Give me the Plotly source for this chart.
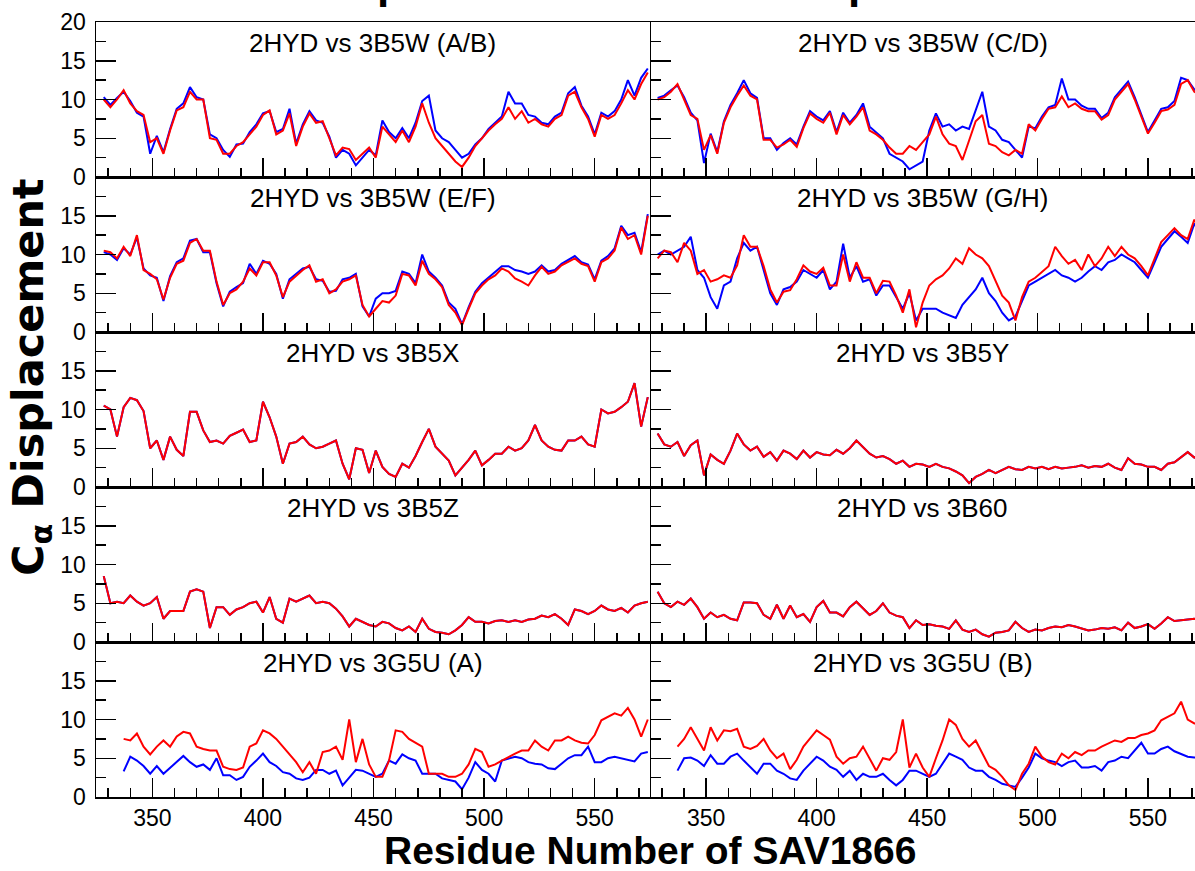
import plotly.graph_objects as go

W, H = 1195, 871

# ---------------- data (C-alpha displacement) ----------------
residues = list(range(328, 575, 3))          # residue numbers for panels 1-8
residues_3g5u = list(range(337, 575, 3))     # residue numbers for the 3G5U panels

ab_red = [10.0, 9.0, 10.0, 11.2, 9.5, 8.5, 8.0, 4.5, 5.0, 3.0,
          6.0, 8.6, 9.0, 11.0, 10.0, 10.0, 5.0, 4.8, 3.0, 3.0,
          4.0, 4.5, 5.5, 6.5, 8.0, 8.6, 5.5, 6.0, 8.2, 4.0,
          6.5, 8.2, 7.0, 7.2, 5.0, 2.8, 3.8, 3.6, 2.2, 3.0,
          3.8, 2.5, 6.5, 5.5, 4.5, 6.0, 4.5, 6.5, 9.5, 7.0,
          5.0, 4.0, 3.0, 2.0, 1.3, 2.5, 4.0, 5.0, 6.0, 6.8,
          7.5, 9.0, 7.5, 8.5, 7.0, 7.5, 6.8, 6.5, 7.5, 8.0,
          10.5, 11.0, 9.0, 7.5, 5.2, 8.0, 7.5, 8.0, 9.5, 11.2,
          10.0, 12.0, 13.5]
ab_blue = [10.3, 9.3, 10.2, 11.0, 9.8, 8.3, 7.8, 3.0, 5.3, 3.2,
           6.2, 8.8, 9.5, 11.6, 10.3, 10.0, 5.5, 5.0, 3.5, 2.6,
           4.2, 4.3, 5.8, 6.8, 8.2, 8.5, 5.8, 6.2, 8.8, 4.3,
           6.8, 8.5, 7.3, 7.0, 5.2, 2.5, 3.5, 3.0, 1.5, 2.5,
           3.5, 2.8, 7.3, 5.8, 5.0, 6.3, 5.0, 7.0, 9.8, 10.5,
           6.0, 5.0, 4.5, 3.5, 2.5, 3.0, 4.2, 5.0, 6.2, 7.0,
           7.8, 11.0, 9.5, 9.5, 8.0, 7.8, 7.0, 6.8, 7.8, 8.3,
           10.8, 11.6, 9.2, 7.8, 5.5, 8.3, 7.8, 8.5, 10.0, 12.5,
           10.5, 12.8, 14.0]

cd_red = [10.0, 10.3, 11.0, 12.0, 10.0, 8.0, 7.5, 3.5, 5.4, 3.0,
          7.0, 9.0, 10.5, 11.8, 10.5, 10.0, 4.8, 4.8, 3.8, 4.2,
          4.8, 3.9, 6.3, 8.2, 7.5, 7.0, 8.3, 5.5, 8.0, 6.8,
          7.8, 9.0, 6.0, 5.5, 4.8, 3.8, 3.0, 3.0, 4.0, 3.5,
          4.5, 5.5, 7.8, 5.5, 4.3, 4.0, 2.2, 4.8, 7.2, 8.0,
          4.3, 4.0, 3.2, 2.8, 3.5, 3.0, 6.8, 6.0, 7.5, 8.8,
          9.0, 10.4, 9.0, 9.5, 8.8, 8.5, 8.5, 7.4, 8.0, 10.0,
          11.0, 12.0, 10.0, 7.8, 5.6, 7.0, 8.5, 8.7, 9.3, 12.0,
          12.5, 11.0, 10.5]
cd_blue = [10.2, 10.5, 11.2, 11.8, 10.3, 8.3, 7.3, 1.8, 5.6, 3.2,
           7.2, 9.3, 10.8, 12.5, 10.8, 10.2, 5.0, 5.0, 3.5, 4.4,
           5.0, 4.2, 6.5, 8.5, 7.8, 7.3, 8.5, 5.8, 8.3, 7.0,
           8.0, 9.5, 6.5, 5.8, 5.0, 3.0, 2.5, 2.0, 1.0, 1.5,
           2.0, 6.0, 8.2, 6.5, 6.8, 6.0, 6.5, 6.2, 8.5, 11.0,
           6.5, 6.0, 4.8, 4.5, 3.5, 2.5, 6.5, 6.3, 7.8, 9.0,
           9.3, 12.7, 10.0, 10.0, 9.2, 8.8, 8.8, 7.6, 8.3, 10.3,
           11.3, 12.3, 10.3, 8.0, 5.8, 7.3, 8.8, 9.0, 9.8, 12.8,
           12.5, 11.3, 10.8]

ef_red = [10.5, 10.3, 9.5, 11.0, 9.8, 12.5, 8.0, 7.5, 6.8, 4.2,
          7.0, 8.8, 9.2, 11.5, 12.0, 10.5, 10.5, 6.5, 3.5, 5.0,
          5.5, 6.5, 8.2, 7.3, 9.0, 9.0, 7.3, 4.5, 6.5, 7.3,
          8.0, 8.6, 6.5, 6.8, 5.0, 5.5, 6.5, 6.8, 7.3, 3.5,
          2.0, 3.0, 4.0, 3.8, 4.7, 7.5, 7.3, 6.0, 9.2, 7.5,
          6.8, 5.8, 3.5, 2.5, 0.9, 3.0, 5.0, 6.0, 6.8, 7.3,
          8.2, 7.8, 6.9, 6.5, 6.0, 7.3, 8.4, 7.5, 7.8, 8.6,
          9.0, 9.5, 8.8, 8.5, 6.5, 9.0, 9.5, 10.5, 13.5, 12.0,
          12.5, 10.0, 15.0]
ef_blue = [10.3, 10.0, 9.3, 10.8, 10.0, 12.2, 8.2, 7.3, 7.0, 4.0,
           7.2, 9.0, 9.5, 11.8, 12.0, 10.3, 10.3, 6.3, 3.3, 5.2,
           5.8, 6.3, 8.8, 7.5, 9.2, 8.8, 7.5, 4.3, 6.8, 7.5,
           8.2, 8.4, 6.8, 6.6, 5.2, 5.3, 6.8, 7.0, 7.5, 3.3,
           2.0, 4.3, 5.0, 5.0, 5.3, 7.8, 7.5, 6.3, 10.0, 7.8,
           7.0, 6.0, 3.8, 3.0, 1.0, 3.2, 5.2, 6.3, 7.0, 7.8,
           8.5, 8.5, 8.0, 7.8, 7.5, 7.8, 8.6, 7.8, 8.0, 8.8,
           9.3, 9.8, 9.0, 8.7, 6.8, 9.2, 9.8, 10.8, 13.7, 12.5,
           12.8, 10.3, 15.2]

gh_red = [9.5, 10.5, 10.3, 9.0, 11.5, 10.5, 7.5, 8.0, 6.5, 6.8,
          7.3, 7.0, 8.6, 12.5, 11.0, 11.0, 8.5, 5.5, 3.8, 5.2,
          5.4, 6.8, 8.6, 7.8, 7.5, 8.3, 6.0, 6.0, 10.0, 6.5,
          9.0, 7.0, 7.0, 5.0, 6.6, 6.5, 4.7, 2.5, 5.5, 0.6,
          3.8, 6.0, 6.8, 7.3, 8.2, 9.5, 8.8, 10.8, 10.0, 9.5,
          8.5, 6.5, 4.7, 3.8, 1.5, 4.5, 6.5, 7.0, 7.8, 8.5,
          11.0, 9.8, 8.8, 9.3, 8.0, 10.0, 8.5, 9.5, 11.0, 9.8,
          11.0, 10.0, 9.5, 8.5, 7.3, 9.5, 11.6, 12.5, 13.4, 12.5,
          12.0, 14.5, 13.0]
gh_blue = [10.0, 10.5, 10.0, 10.5, 11.0, 12.3, 8.0, 7.0, 4.5, 3.0,
           6.0, 6.5, 9.5, 11.5, 10.5, 11.0, 8.0, 5.0, 3.5, 5.5,
           5.8, 6.5, 8.0, 7.5, 7.0, 8.0, 5.5, 6.5, 11.4, 7.0,
           8.5, 6.5, 6.8, 4.7, 6.0, 6.0, 4.5, 3.0, 5.0, 1.5,
           3.0, 3.0, 3.0, 2.5, 2.2, 1.8, 3.5, 4.5, 5.5, 7.0,
           5.0, 4.0, 2.5, 1.5, 2.0, 4.0, 6.0, 6.5, 7.0, 7.5,
           8.0, 7.3, 7.0, 6.5, 7.0, 7.8, 8.5, 8.0, 9.0, 9.3,
           10.0, 9.5, 9.0, 8.0, 7.0, 9.0, 11.0, 12.0, 13.0, 12.3,
           11.5, 14.0, 12.5]

x_red = [10.5, 10.0, 6.5, 10.3, 11.5, 11.2, 9.8, 5.0, 6.0, 3.5,
         6.5, 4.8, 4.0, 9.7, 9.7, 7.3, 5.8, 6.0, 5.6, 6.6,
         7.0, 7.4, 5.8, 6.0, 11.0, 9.0, 6.5, 3.0, 5.6, 5.8,
         6.5, 5.5, 5.0, 5.2, 5.6, 6.0, 3.0, 1.0, 5.0, 4.8,
         1.8, 4.7, 2.6, 1.7, 1.3, 3.0, 2.5, 4.0, 5.8, 7.5,
         5.2, 4.3, 3.4, 1.5, 2.5, 3.5, 4.7, 2.8, 3.5, 4.3,
         4.3, 5.2, 4.7, 5.0, 6.0, 8.0, 6.0, 5.2, 4.8, 4.7,
         6.0, 6.0, 6.5, 5.5, 5.2, 10.0, 9.5, 9.7, 10.3, 11.0,
         13.4, 7.8, 11.6]
x_blue = list(x_red)      # blue trace lies under the red one

y_red = [6.9, 5.5, 5.2, 5.8, 4.0, 5.4, 6.0, 1.5, 4.2, 3.5,
         3.0, 4.7, 6.9, 5.5, 4.7, 5.2, 3.9, 4.5, 3.4, 4.7,
         4.3, 3.6, 4.7, 3.8, 4.5, 4.2, 4.1, 4.8, 4.3, 5.0,
         6.0, 5.2, 4.3, 3.8, 4.0, 3.6, 3.0, 3.4, 2.6, 3.0,
         2.9, 2.6, 3.0, 2.6, 2.4, 2.0, 1.5, 0.5, 1.3, 1.7,
         2.2, 1.8, 2.2, 2.6, 2.3, 2.2, 2.6, 2.4, 2.6, 2.3,
         2.6, 2.4, 2.5, 2.6, 2.8, 2.5, 2.7, 2.6, 3.0, 2.5,
         2.2, 3.7, 3.0, 2.9, 2.6, 2.6, 2.2, 3.0, 3.2, 3.8,
         4.5, 3.8, 4.0]
y_blue = list(y_red)

z_red = [8.5, 5.0, 5.2, 5.0, 6.0, 5.2, 4.7, 5.0, 5.8, 3.0,
         4.0, 4.0, 4.0, 6.5, 6.8, 6.5, 1.8, 4.5, 4.5, 3.5,
         4.2, 4.5, 5.0, 5.2, 3.8, 5.8, 3.0, 2.5, 5.6, 5.2,
         5.6, 6.0, 5.0, 5.2, 5.0, 4.3, 3.3, 2.0, 3.0, 2.6,
         2.2, 2.0, 2.6, 2.4, 1.8, 1.5, 2.0, 1.3, 3.0, 1.7,
         1.3, 1.2, 1.0, 1.5, 2.2, 3.2, 2.6, 2.6, 2.4, 2.7,
         2.8, 2.6, 2.8, 2.6, 2.9, 3.0, 3.4, 3.2, 3.6, 3.0,
         2.2, 4.2, 4.0, 3.6, 4.0, 4.7, 4.2, 4.0, 4.4, 3.8,
         4.7, 5.0, 5.2]
z_blue = list(z_red)

b60_red = [6.5, 5.0, 4.5, 5.2, 4.8, 5.6, 4.5, 3.0, 3.8, 3.2,
           3.5, 3.0, 2.8, 5.1, 5.1, 5.0, 3.5, 3.0, 4.8, 3.0,
           4.7, 3.2, 3.6, 2.6, 4.5, 5.3, 3.8, 3.8, 3.3, 4.5,
           5.2, 4.3, 3.5, 4.0, 5.0, 3.8, 3.4, 3.2, 1.8, 2.8,
           2.2, 2.3, 2.1, 2.0, 1.7, 2.8, 1.6, 1.3, 1.6, 1.0,
           0.7, 1.2, 1.3, 1.5, 2.6, 1.8, 1.3, 1.6, 1.5, 1.8,
           2.0, 1.9, 2.2, 2.0, 1.7, 1.5, 1.6, 1.8, 1.7, 1.9,
           1.5, 2.5, 1.8, 2.0, 2.3, 1.7, 2.4, 3.2, 2.7, 2.8,
           2.9, 3.0, 2.8]
b60_blue = list(b60_red)

g5ua_red = [7.5, 7.3, 8.2, 6.5, 5.5, 6.5, 7.3, 6.5, 7.8, 8.4,
            8.2, 6.5, 6.2, 6.0, 6.0, 3.9, 3.6, 3.5, 3.8, 6.5,
            6.9, 8.6, 8.2, 7.5, 6.5, 5.5, 4.5, 3.2, 4.5, 3.0,
            5.8, 6.0, 6.5, 4.8, 10.0, 4.5, 7.5, 4.2, 2.6, 2.6,
            4.7, 8.6, 8.4, 7.5, 7.0, 6.5, 3.0, 3.0, 3.0, 2.6,
            2.6, 3.0, 4.2, 6.2, 5.8, 3.9, 4.2, 4.7, 5.2, 5.6,
            6.0, 6.0, 7.3, 6.5, 6.0, 7.3, 7.3, 7.8, 7.3, 7.0,
            6.9, 8.0, 9.9, 10.3, 10.8, 10.5, 11.5, 10.0, 7.8, 10.0]
g5ua_blue = [3.3, 5.2, 4.7, 4.0, 3.0, 4.0, 3.0, 3.8, 4.5, 5.3,
             4.5, 3.9, 4.2, 3.5, 5.0, 2.8, 2.8, 2.2, 2.6, 3.9,
             4.7, 5.6, 4.5, 4.0, 3.2, 3.0, 2.4, 2.2, 2.5, 3.5,
             3.5, 3.0, 3.4, 1.5, 2.5, 3.5, 3.4, 3.0, 2.6, 3.0,
             4.7, 4.3, 5.5, 5.0, 4.7, 3.0, 3.0, 3.0, 2.4, 2.2,
             2.0, 1.0, 2.5, 4.5, 3.5, 3.0, 2.0, 4.7, 5.0, 5.2,
             5.0, 4.5, 4.3, 4.2, 3.7, 3.6, 4.3, 5.0, 5.4, 5.4,
             6.5, 4.5, 4.5, 5.0, 5.2, 5.0, 4.8, 4.6, 5.6, 5.8]

g5ub_red = [6.5, 7.5, 9.0, 7.5, 6.0, 9.0, 7.3, 8.6, 8.5, 8.8,
            6.5, 6.2, 6.6, 7.5, 6.0, 5.0, 5.6, 3.6, 4.8, 6.5,
            7.6, 8.6, 8.0, 7.4, 5.2, 4.3, 5.0, 5.2, 6.5, 5.0,
            3.4, 5.0, 4.8, 5.8, 10.0, 3.8, 5.6, 3.8, 2.6, 5.0,
            7.3, 10.0, 9.3, 7.5, 6.5, 7.3, 5.6, 4.0, 3.5, 2.6,
            1.5, 0.9, 3.0, 4.3, 6.5, 5.2, 4.5, 4.2, 5.6, 5.0,
            5.8, 5.4, 6.0, 6.0, 6.5, 6.9, 7.3, 7.1, 7.6, 7.6,
            8.0, 8.2, 8.6, 9.9, 10.3, 10.8, 12.3, 10.0, 9.5, 9.5]
g5ub_blue = [3.4, 5.0, 5.1, 4.7, 4.0, 5.4, 4.3, 4.3, 5.2, 5.6,
             4.7, 3.8, 3.0, 4.3, 4.3, 3.4, 3.0, 2.4, 2.2, 3.4,
             4.3, 5.2, 4.7, 3.9, 3.5, 2.6, 3.4, 2.2, 3.0, 2.6,
             2.6, 3.0, 2.2, 1.5, 2.2, 3.4, 3.4, 3.0, 2.6, 3.0,
             4.3, 5.6, 5.2, 4.8, 3.8, 3.4, 3.4, 2.6, 2.2, 1.7,
             1.5, 1.3, 2.5, 3.8, 5.6, 5.0, 4.7, 4.5, 4.0, 4.5,
             4.7, 3.8, 3.8, 4.0, 3.4, 4.5, 4.7, 5.2, 5.0, 6.0,
             7.0, 5.6, 5.6, 6.2, 6.5, 5.9, 5.6, 5.2, 5.1, 5.0]

panel_titles = ["2HYD vs 3B5W (A/B)", "2HYD vs 3B5W (C/D)",
                "2HYD vs 3B5W (E/F)", "2HYD vs 3B5W (G/H)",
                "2HYD vs 3B5X", "2HYD vs 3B5Y",
                "2HYD vs 3B5Z", "2HYD vs 3B60",
                "2HYD vs 3G5U (A)", "2HYD vs 3G5U (B)"]
panel_x = [residues] * 8 + [residues_3g5u] * 2
panel_blue = [ab_blue, cd_blue, ef_blue, gh_blue, x_blue, y_blue, z_blue, b60_blue, g5ua_blue, g5ub_blue]
panel_red = [ab_red, cd_red, ef_red, gh_red, x_red, y_red, z_red, b60_red, g5ua_red, g5ub_red]

x_major = [350, 400, 450, 500, 550]
x_minor = [330, 340, 360, 370, 380, 390, 410, 420, 430, 440, 460, 470, 480, 490,
           510, 520, 530, 540, 560, 570]
y_major = [0, 5, 10, 15]
y_minor = [2.5, 7.5, 12.5, 17.5]

# ---------------- layout geometry (pixels) ----------------
col_px = [(96, 650), (651, 1195)]
x_ranges = [[324.5, 575.0], [325.0, 571.3]]
row_tops = [22, 177, 332, 487, 642]
row_h = 155

FONT = "Liberation Sans"
BLUE = "#0000ff"
RED = "#ff0000"

fig = go.Figure()
layout = dict(width=W, height=H, margin=dict(l=0, r=0, t=0, b=0, autoexpand=False),
              paper_bgcolor="white", plot_bgcolor="white", showlegend=False,
              font=dict(family=FONT, size=23, color="black"))
annotations = []

for k in range(10):
    row, col = k // 2, k % 2
    idx = k + 1
    xs = "x" if idx == 1 else f"x{idx}"
    ys = "y" if idx == 1 else f"y{idx}"
    x0, x1 = col_px[col]
    top = row_tops[row]
    bot = top + row_h
    xdom = [x0 / W, x1 / W]
    ydom = [1 - bot / H, 1 - top / H]

    fig.add_trace(go.Scatter(x=panel_x[k], y=panel_blue[k], mode="lines",
                             line=dict(color=BLUE, width=2), xaxis=xs, yaxis=ys,
                             hoverinfo="skip"))
    fig.add_trace(go.Scatter(x=panel_x[k], y=panel_red[k], mode="lines",
                             line=dict(color=RED, width=2), xaxis=xs, yaxis=ys,
                             hoverinfo="skip"))

    xa = dict(domain=xdom, anchor=ys, range=x_ranges[col], automargin=False,
              tickmode="array", tickvals=x_major, ticks="inside", ticklen=19,
              tickwidth=1.5, tickcolor="black",
              minor=dict(tickmode="array", tickvals=x_minor, ticks="inside",
                         ticklen=9, tickwidth=1.5, tickcolor="black", showgrid=False),
              showticklabels=(row == 4), tickfont=dict(family=FONT, size=23),
              showline=True, linewidth=1.5, linecolor="black", mirror=True,
              showgrid=False, zeroline=False, fixedrange=True)
    yvals = y_major + [20] if (row == 0 and col == 0) else y_major
    ya = dict(domain=ydom, anchor=xs, range=[0, 20], automargin=False,
              tickmode="array", tickvals=yvals, ticks="inside", ticklen=20,
              tickwidth=1.5, tickcolor="black",
              minor=dict(tickmode="array", tickvals=y_minor, ticks="inside",
                         ticklen=10, tickwidth=1.5, tickcolor="black", showgrid=False),
              showticklabels=(col == 0), tickfont=dict(family=FONT, size=23),
              ticklabelstandoff=4,
              showline=True, linewidth=1.5, linecolor="black", mirror=False,
              showgrid=False, zeroline=False, fixedrange=True)
    layout["xaxis" if idx == 1 else f"xaxis{idx}"] = xa
    layout["yaxis" if idx == 1 else f"yaxis{idx}"] = ya

    annotations.append(dict(text=panel_titles[k], xref="paper", yref="paper",
                            x=(xdom[0] + xdom[1]) / 2, y=1 - (top + 21) / H,
                            xanchor="center", yanchor="middle", showarrow=False,
                            font=dict(family=FONT, size=26, color="black")))

# axis titles
annotations.append(dict(text="<b>Residue Number of SAV1866</b>", xref="paper", yref="paper",
                        x=650 / W, y=1 - 850 / H, xanchor="center", yanchor="middle",
                        showarrow=False, font=dict(family=FONT, size=39, color="black")))
annotations.append(dict(text="<b>C<sub>α</sub> Displacement</b>", xref="paper", yref="paper",
                        x=31 / W, y=1 - 377 / H, xanchor="center", yanchor="middle",
                        textangle=-90, showarrow=False,
                        font=dict(family="DejaVu Sans", size=43, color="black")))
# clipped descenders of the (cut-off) figure title above the image
for xp in (390, 861):
    annotations.append(dict(text="<b>p</b>", xref="paper", yref="paper",
                            x=xp / W, y=1 - 8 / H, xanchor="center", yanchor="bottom",
                            showarrow=False, borderpad=0,
                            font=dict(family=FONT, size=44, color="black")))

layout["annotations"] = annotations
fig.update_layout(**layout)
fig.write_html("out.html",
               config={"displayModeBar": False, "staticPlot": True},
               post_script="document.body.style.margin='0';document.body.style.overflow='hidden';")
